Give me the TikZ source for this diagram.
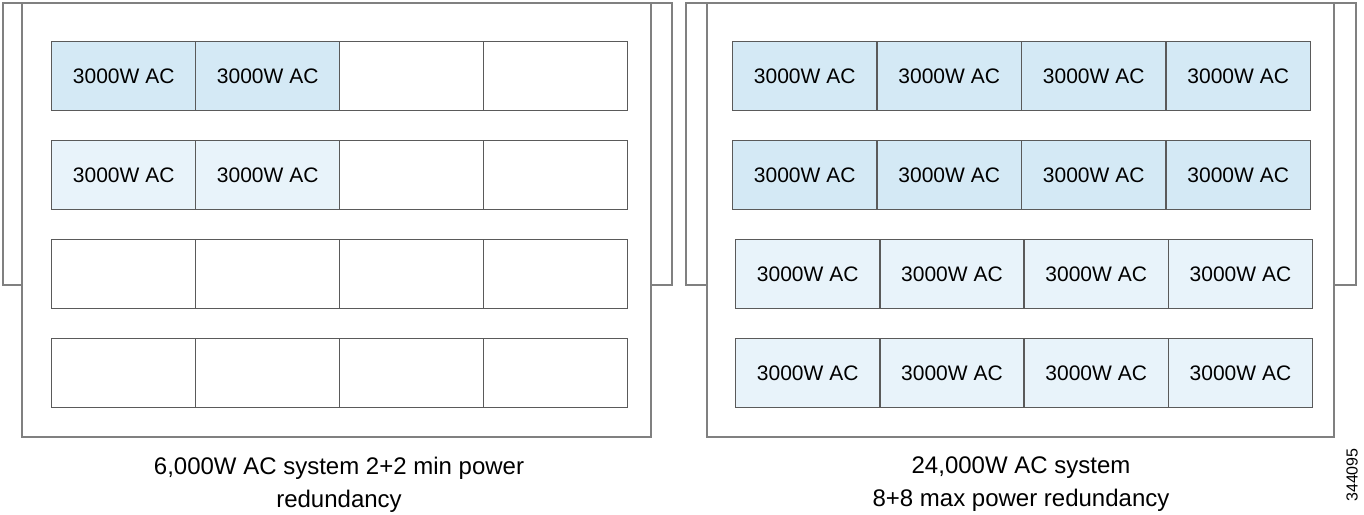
\documentclass[tikz,border=0pt]{standalone}
\usepackage{fontspec}
\setmainfont{Liberation Sans}
\usetikzlibrary{positioning}

\definecolor{psudark}{HTML}{D4E9F5}
\definecolor{psulight}{HTML}{E8F3FA}
\definecolor{framegray}{HTML}{808080}
\definecolor{cellgray}{HTML}{5A5A5A}

\begin{document}
\begin{tikzpicture}[x=0.5pt,y=-0.5pt,
  frame/.style={draw=framegray,line width=0.75pt},
  bay/.style={draw=cellgray,line width=0.7pt,rectangle,anchor=north west,inner sep=0pt,
    minimum width=72pt,minimum height=34.5pt,font=\fontsize{10.5}{12}\selectfont},
  caption/.style={align=center,font=\fontsize{12}{16.5}\selectfont}]
  \useasboundingbox (0,0) rectangle (1364,514);
  % left chassis
  \draw[frame] (22,285) -- (3,285) -- (3,3) -- (672,3) -- (672,285) -- (651,285);
  \draw[frame] (22,3) rectangle (651,437);
  \path (51,41) node[bay,fill=psudark] (l11) {3000W AC}
    (195,41) node[bay,fill=psudark] (l12) {3000W AC}
    (339,41) node[bay] (l13) {} (483,41) node[bay] (l14) {};
  \path (51,140) node[bay,fill=psulight] (l21) {3000W AC}
    (195,140) node[bay,fill=psulight] (l22) {3000W AC}
    (339,140) node[bay] (l23) {} (483,140) node[bay] (l24) {};
  \foreach \r/\y in {3/239,4/338}
    \foreach \c in {1,...,4}
      \node[bay] (l\r\c) at ({51+144*(\c-1)},\y) {};
  \node[caption] (lcap) at (339,485) {6,000W AC system 2+2 min power\\redundancy};
  % right chassis
  \draw[frame] (707,285) -- (686,285) -- (686,3) -- (1356,3) -- (1356,285) -- (1334,285);
  \draw[frame] (707,3) rectangle (1334,437);
  \foreach \r/\y in {1/41,2/140}
    \foreach \c in {1,...,4}
      \node[bay,fill=psudark] (r\r\c) at ({732+144.5*(\c-1)},\y) {3000W AC};
  \foreach \r/\y in {3/239,4/338}
    \foreach \c in {1,...,4}
      \node[bay,fill=psulight] (r\r\c) at ({735+144.25*(\c-1)},\y) {3000W AC};
  \node[caption] (rcap) at (1021,484) {24,000W AC system\\8+8 max power redundancy};
  \node[rotate=90,font=\fontsize{8}{9}\selectfont] (figid) at (1352,475) {344095};
\end{tikzpicture}
\end{document}
